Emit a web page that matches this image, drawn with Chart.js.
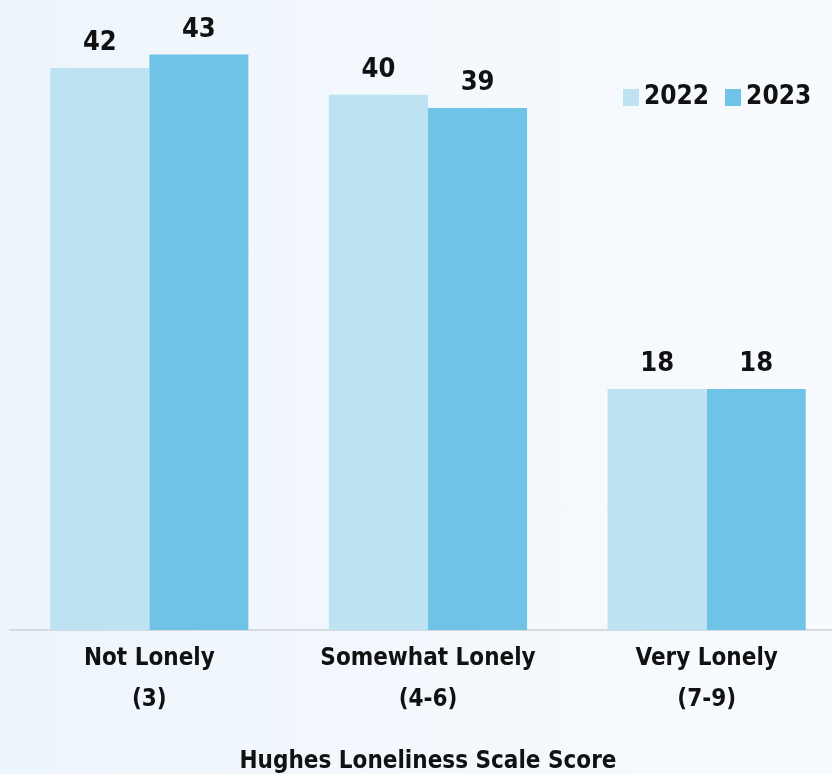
<!DOCTYPE html>
<html>
<head>
<meta charset="utf-8">
<script src="https://cdn.jsdelivr.net/npm/chart.js@4"></script>
<style>
  html, body { margin: 0; padding: 0; }
  body {
    width: 832px; height: 774px; overflow: hidden; position: relative;
    background: linear-gradient(90deg, #edf5fc 0%, #f8fbfe 100%);
    font-family: "Liberation Sans Narrow", "DejaVu Sans Condensed", sans-serif;
  }
  #wrap { position: absolute; left: 0; top: 0; width: 846px; height: 774px; }
  #legend { position: absolute; left: 623px; top: 80px; display: flex; align-items: center; }
  .item { display: flex; align-items: center; margin-right: 16px; font-weight: bold; font-size: 26px; color: #111; }
  .box { width: 16px; height: 17px; margin-right: 5px; margin-top: 4px; }
</style>
</head>
<body>
<div id="wrap"><canvas id="chart" width="846" height="774"></canvas></div>
<div id="legend"></div>
<script>
// categories and values (percent)
const categories = [['Not Lonely', '(3)'], ['Somewhat Lonely', '(4-6)'], ['Very Lonely', '(7-9)']];
const years = ['2022', '2023'];
const values2022 = [42, 40, 18];
const values2023 = [43, 39, 18];
const colors = ['#bde2f2', '#6ec3e6'];
const axisTitle = 'Hughes Loneliness Scale Score';

const FONT = '"Liberation Sans Narrow", "DejaVu Sans Condensed", sans-serif';

// numbers above the bars
const valueLabels = {
  id: 'valueLabels',
  afterDatasetsDraw(chart) {
    const ctx = chart.ctx;
    ctx.save();
    ctx.font = 'bold 27px ' + FONT;
    ctx.fillStyle = '#111';
    ctx.textAlign = 'center';
    ctx.textBaseline = 'alphabetic';
    chart.data.datasets.forEach((ds, i) => {
      chart.getDatasetMeta(i).data.forEach((bar, j) => {
        ctx.fillText(ds.data[j], bar.x, bar.y - 18);
      });
    });
    ctx.restore();
  }
};

const chart = new Chart(document.getElementById('chart'), {
  type: 'bar',
  data: {
    labels: categories,
    datasets: [
      { label: years[0], data: values2022, backgroundColor: colors[0] },
      { label: years[1], data: values2023, backgroundColor: colors[1] },
    ]
  },
  options: {
    responsive: false,
    animation: false,
    devicePixelRatio: 1,
    layout: { padding: { top: 1, left: 10, right: 0, bottom: 0 } },
    datasets: { bar: { categoryPercentage: 0.711, barPercentage: 1.0 } },
    plugins: {
      legend: { display: false },
      tooltip: { enabled: false }
    },
    scales: {
      x: {
        grid: { display: false, drawTicks: false, tickLength: 0 },
        border: { display: true, color: '#d6dadf', width: 2 },
        ticks: {
          color: '#111', padding: 8,
          font: { family: FONT, size: 24, weight: 'bold', lineHeight: 1.71 }
        },
        title: {
          display: true, text: axisTitle, color: '#111',
          font: { family: FONT, size: 24, weight: 'bold', lineHeight: 1.0 },
          padding: { top: 22, bottom: 0 }
        }
      },
      y: { display: false, min: 0, max: 47 }
    }
  },
  plugins: [valueLabels]
});

// legend
document.getElementById('legend').innerHTML = chart.data.datasets.map(ds =>
  `<div class="item"><span class="box" style="background:${ds.backgroundColor}"></span>${ds.label}</div>`
).join('');
</script>
</body>
</html>
